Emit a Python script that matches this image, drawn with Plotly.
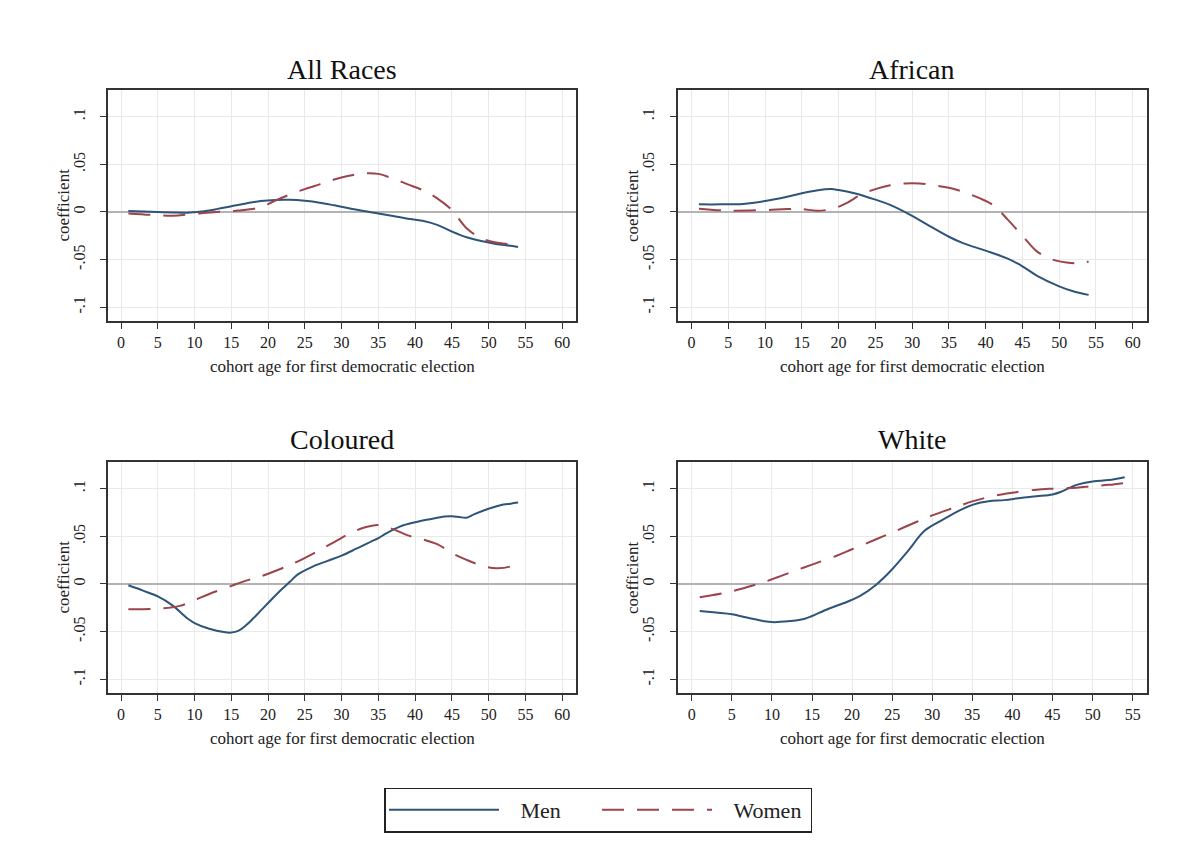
import plotly.graph_objects as go

# ---------------- data ----------------
panel_titles = ["All Races", "African", "Coloured", "White"]
series_names = ["\u00a0\u00a0\u00a0Men", "\u00a0\u00a0\u00a0Women"]
y_tickvals = [-0.1, -0.05, 0, 0.05, 0.1]
y_ticktext = ["-.1", "-.05", "0", ".05", ".1"]
x_ticks_60 = [0, 5, 10, 15, 20, 25, 30, 35, 40, 45, 50, 55, 60]
x_ticks_55 = [0, 5, 10, 15, 20, 25, 30, 35, 40, 45, 50, 55]

all_men_age = [1, 3, 5, 7, 9, 11, 13, 15, 17, 19, 21, 23, 25, 27, 29, 31, 33, 35, 37, 39, 41, 43, 45, 47, 49, 51, 53, 54]
all_men = [0.001, 0.0005, 0.0, -0.0005, -0.0008, 0.0005, 0.003, 0.006, 0.009, 0.0115, 0.0127, 0.0128, 0.0117,
           0.0098, 0.007, 0.004, 0.001, -0.0015, -0.0042, -0.007, -0.0092, -0.0135, -0.0205, -0.0265, -0.0305,
           -0.0335, -0.0355, -0.0368]
all_wom_age = [1, 4, 7, 10, 13, 16, 19, 21, 23, 25, 27, 29, 31, 33, 35, 37, 39, 41, 43, 45, 47, 49, 51, 53, 54]
all_wom = [-0.0015, -0.003, -0.004, -0.002, 0.0, 0.0015, 0.005, 0.012, 0.0185, 0.024, 0.029, 0.034, 0.038,
           0.0405, 0.040, 0.035, 0.029, 0.023, 0.0143, 0.002, -0.017, -0.0276, -0.032, -0.0335, -0.031]

afr_men_age = [1, 4, 7, 10, 13, 15, 17, 19, 20, 22, 25, 27, 30, 32, 35, 37, 40, 43, 45, 47, 50, 52, 54]
afr_men = [0.008, 0.008, 0.0085, 0.0115, 0.016, 0.0196, 0.0225, 0.024, 0.023, 0.020, 0.013, 0.0075, -0.004,
           -0.013, -0.026, -0.033, -0.0406, -0.049, -0.057, -0.067, -0.078, -0.0835, -0.087]
afr_wom_age = [1, 5, 10, 13, 15, 17, 19, 21, 23, 25, 27, 29, 31, 33, 35, 37, 39, 41, 43, 45, 47, 49, 51, 53, 54]
afr_wom = [0.0035, 0.0014, 0.002, 0.003, 0.003, 0.0014, 0.003, 0.009, 0.018, 0.024, 0.028, 0.030, 0.030, 0.028,
           0.0255, 0.021, 0.015, 0.0073, -0.008, -0.025, -0.0416, -0.0497, -0.053, -0.054, -0.052]

col_men_age = [1, 3, 5, 7, 9, 10, 12, 14, 15, 16, 17, 18, 19, 20, 21, 22, 23, 24, 26, 28, 30, 32, 34, 35, 36, 38,
               40, 42, 44, 45, 46, 47, 48, 50, 52, 53, 54]
col_men = [-0.0014, -0.007, -0.013, -0.0224, -0.036, -0.041, -0.047, -0.0505, -0.051, -0.049, -0.0434, -0.036,
           -0.028, -0.020, -0.012, -0.0045, 0.0025, 0.0098, 0.018, 0.024, 0.0297, 0.037, 0.0445, 0.048, 0.0528,
           0.0605, 0.0648, 0.068, 0.0708, 0.071, 0.0703, 0.0695, 0.073, 0.079, 0.0833, 0.0843, 0.0854]
col_wom_age = [1, 5, 8, 10, 12, 15, 17, 19, 22, 24, 27, 29, 31, 33, 35, 37, 39, 41, 43, 45, 47, 49, 51, 53, 54]
col_wom = [-0.0266, -0.026, -0.023, -0.017, -0.0105, -0.002, 0.0035, 0.008, 0.0168, 0.0235, 0.0355, 0.044, 0.0525,
           0.059, 0.062, 0.0575, 0.051, 0.0468, 0.0418, 0.0325, 0.0253, 0.0195, 0.0165, 0.0185, 0.0229]

wh_men_age = [1, 3, 5, 7, 9, 10, 12, 14, 15, 17, 19, 21, 23, 25, 27, 29, 31, 33, 35, 37, 39, 41, 43, 45, 46, 47,
              48, 50, 52, 54]
wh_men = [-0.0283, -0.030, -0.0318, -0.0355, -0.039, -0.040, -0.0392, -0.0368, -0.0336, -0.0262, -0.020, -0.0125,
          -0.0007, 0.0155, 0.035, 0.0555, 0.066, 0.0755, 0.083, 0.0867, 0.088, 0.0902, 0.092, 0.094, 0.0965,
          0.1005, 0.104, 0.1076, 0.109, 0.112]
wh_wom_age = [1, 5, 8, 10, 13, 15, 18, 20, 23, 25, 28, 30, 33, 35, 38, 40, 43, 45, 48, 50, 52, 54]
wh_wom = [-0.014, -0.0077, -0.0007, 0.0049, 0.0143, 0.0203, 0.0294, 0.0364, 0.0469, 0.054, 0.065, 0.072, 0.0808,
          0.0867, 0.093, 0.0958, 0.099, 0.100, 0.101, 0.1028, 0.104, 0.106]

series = [
    (all_men_age, all_men, all_wom_age, all_wom),
    (afr_men_age, afr_men, afr_wom_age, afr_wom),
    (col_men_age, col_men, col_wom_age, col_wom),
    (wh_men_age, wh_men, wh_wom_age, wh_wom),
]

# ---------------- layout geometry (pixels) ----------------
W, H = 1178, 856
FONT = "Liberation Serif"
MEN_C = "#2e5479"
WOM_C = "#9c434b"

# left, right, top, bottom of each plot region
boxes = [(100, 568, 82, 313), (669.6, 1138.7, 82, 313), (100, 568, 454, 685), (669.6, 1138.7, 454, 685)]
xranges = [[-1.77, 61.88], [-1.9, 61.9], [-1.77, 61.88], [-1.76, 56.74]]
xtick_sets = [x_ticks_60, x_ticks_60, x_ticks_60, x_ticks_55]
yrange = [-0.1144, 0.128]

fig = go.Figure()
annotations = []

for i, (box, (ma, mv, wa, wv)) in enumerate(zip(boxes, series)):
    k = "" if i == 0 else str(i + 1)
    xa, ya = "x" + k, "y" + k
    l, r, t, b = box
    fig.add_trace(go.Scatter(x=ma, y=mv, mode="lines", name=series_names[0], legendgroup="men",
                             showlegend=(i == 0),
                             line=dict(color=MEN_C, width=2, shape="spline", smoothing=1.0),
                             xaxis=xa, yaxis=ya))
    fig.add_trace(go.Scatter(x=wa, y=wv, mode="lines", name=series_names[1], legendgroup="wom",
                             showlegend=(i == 0),
                             line=dict(color=WOM_C, width=2, dash="22px,13px", shape="spline", smoothing=1.0),
                             xaxis=xa, yaxis=ya))
    axis_common = dict(showline=True, linecolor="#333", linewidth=1.6, mirror=True,
                       ticks="outside", ticklen=6, tickwidth=1.2, tickcolor="#333",
                       showgrid=True, gridcolor="#e9e9e9", gridwidth=1,
                       tickfont=dict(family=FONT, size=16, color="#222"))
    fig.layout["xaxis" + k] = dict(domain=[l / W, r / W], range=xranges[i], anchor=ya,
                                   tickvals=xtick_sets[i], zeroline=False, ticklabelstandoff=0,
                                   **axis_common)
    fig.layout["yaxis" + k] = dict(domain=[1 - b / H, 1 - t / H], range=yrange, anchor=xa,
                                   tickvals=y_tickvals, ticktext=y_ticktext, tickangle=-90,
                                   zeroline=True, zerolinecolor="#b3b3b3", zerolinewidth=1.5,
                                   ticklabelstandoff=9, **axis_common)
    cx = (l + r) / 2
    title_y = 62 if i < 2 else 432
    annotations.append(dict(text=panel_titles[i], x=cx / W, y=1 - title_y / H, xref="paper", yref="paper",
                            xanchor="center", yanchor="middle", showarrow=False,
                            font=dict(family=FONT, size=28, color="#111")))
    annotations.append(dict(text="cohort age for first democratic election", x=cx / W, y=1 - (b + 45) / H,
                            xref="paper", yref="paper", xanchor="center", yanchor="middle", showarrow=False,
                            font=dict(family=FONT, size=17, color="#222")))
    annotations.append(dict(text="coefficient", x=(l - 45) / W, y=1 - ((t + b) / 2) / H,
                            xref="paper", yref="paper", xanchor="center", yanchor="middle", showarrow=False,
                            textangle=-90, font=dict(family=FONT, size=17, color="#222")))

fig.update_layout(
    width=W, height=H,
    margin=dict(l=0, r=0, t=0, b=0),
    paper_bgcolor="white", plot_bgcolor="white",
    annotations=annotations,
    showlegend=True,
    legend=dict(orientation="h", x=590 / W, xanchor="center", y=1 - 802 / H, yanchor="middle",
                bordercolor="#222", borderwidth=1.5, bgcolor="white",
                font=dict(family=FONT, size=22, color="#222"),
                entrywidth=88, itemwidth=110),
)

fig.write_html("out.html")
